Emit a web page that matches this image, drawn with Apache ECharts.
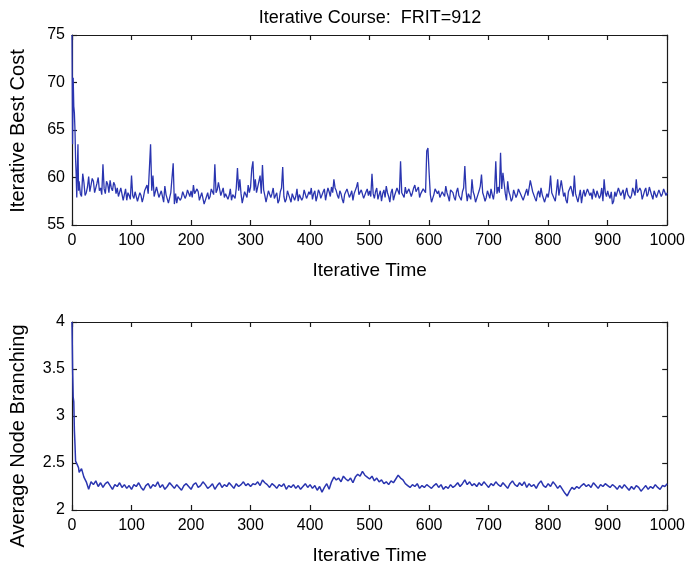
<!DOCTYPE html>
<html>
<head>
<meta charset="utf-8">
<script src="https://cdn.jsdelivr.net/npm/echarts@6/dist/echarts.min.js"></script>
<style>
html,body{margin:0;padding:0;background:#fff;}
#chart{width:688px;height:572px;}
</style>
</head>
<body>
<div id="chart"></div>
<script>
// ---- Data ----
const titleText = 'Iterative Course:  FRIT=912';
const xName = 'Iterative Time';
const costName = 'Iterative Best Cost';
const branchName = 'Average Node Branching';

// iterations 0..11 (every iteration)
const earlyIter = [0,1,2,3,4,5,6,7,8,9,10,11];
const earlyCost = [75, 63.5, 70.5, 67.5, 66.8, 65.0, 62.0, 60.3, 57.9, 61.0, 63.5, 58.6];
const earlyBranch = [4.0, 3.5, 3.2, 3.15, 2.85, 2.7, 2.52, 2.5, 2.5, 2.48, 2.5, 2.45];

// best cost at iterations 12, 14, 16, ... 1000
const costStart = 12;
const costStep = 2;
const cost = [
  59.6, 58.3, 58.0, 60.4, 59.5, 58.1, 58.4, 59.0, 60.1, 58.5,
  58.7, 59.9, 59.6, 58.4, 58.2, 59.4, 60.0, 58.6, 58.9, 58.2,
  61.4, 58.8, 58.3, 59.6, 59.3, 58.4, 59.7, 58.9, 58.6, 59.5,
  59.2, 58.3, 58.9, 58.0, 57.8, 58.9, 58.7, 57.6, 58.2, 58.8,
  57.6, 58.4, 58.1, 57.7,
  60.2, 58.1, 57.8, 58.5, 58.3, 57.5, 57.6, 58.4, 58.1, 57.4,
  57.9, 58.6, 58.4, 59.2, 58.3, 60.9, 63.5, 58.6, 60.2, 58.0,
  58.2, 59.0, 58.9, 57.9, 57.7, 58.6, 58.5, 57.4, 59.1, 58.2,
  58.0, 57.3, 57.5, 58.4, 58.6, 61.5, 57.2, 58.3, 57.3, 58.0,
  58.2, 57.6, 57.9, 58.5, 58.4, 57.8, 58.1, 58.7, 58.6, 58.0,
  58.6, 57.9, 59.2, 58.3, 58.1, 58.8, 58.5, 57.6, 57.8, 58.4,
  58.3, 57.2, 57.2, 58.0, 58.4, 57.7, 58.0, 58.8, 59.0, 58.2,
  61.4, 58.4, 58.7, 59.5, 59.3, 58.1, 58.2, 58.9, 57.9, 58.3,
  58.5, 57.7, 58.1, 58.8, 57.6, 58.2, 58.4, 57.8, 58.9, 61.0,
  58.6, 59.8, 58.3, 57.3, 57.4, 58.5, 58.6, 57.9, 59.2, 58.4,
  59.0, 60.9, 61.7, 58.6, 59.8, 58.4, 58.2, 59.6, 60.2, 58.3,
  61.3, 58.7, 58.1, 57.4, 57.5, 58.6, 58.6, 57.9, 58.3, 58.9,
  57.8, 58.1, 58.4, 57.3, 57.6, 58.5, 58.9, 61.1, 58.0, 57.4,
  57.7, 58.6, 58.2, 57.8, 57.4, 58.3, 58.5, 57.6, 58.0, 58.8,
  57.5, 58.2, 58.3, 57.6, 57.9, 58.7, 58.6, 57.8, 58.1, 58.5,
  58.2, 58.9, 57.7, 58.3, 58.6, 57.5, 58.0, 58.7, 58.4, 57.8,
  57.9, 58.5, 58.8, 57.6, 58.3, 58.9, 58.5, 58.0, 59.0, 58.4,
  59.8, 58.9, 58.6, 58.1, 57.8, 58.6, 58.3, 57.7, 57.3, 58.2,
  58.1, 58.8, 58.7, 57.9, 58.2, 58.6, 57.6, 58.3, 58.4, 59.0,
  59.5, 58.2, 58.0, 58.7, 58.6, 57.8, 57.9, 58.5, 58.8, 58.1,
  58.6, 58.0, 60.4, 58.3, 57.8, 58.5, 58.9, 57.7, 58.2, 58.6,
  57.5, 58.3, 58.7, 57.9, 59.1, 58.4, 58.0, 57.4, 58.4, 58.8,
  57.6, 58.1, 58.3, 58.9, 58.8, 58.2, 61.7, 58.4, 58.5, 57.9,
  59.0, 58.3, 58.2, 58.8, 58.7, 58.0, 58.4, 58.9, 59.2, 58.5,
  58.6, 59.0, 57.9, 58.3, 58.5, 58.8, 59.0, 58.4, 62.8, 63.1,
  60.5, 58.2, 57.4, 57.8, 58.2, 58.8, 59.0, 58.3, 58.6, 57.9,
  57.8, 58.5, 58.3, 58.0, 59.1, 58.4, 58.0, 57.5, 58.7, 58.9,
  58.4, 57.9, 57.6, 58.5, 58.9, 58.1, 58.2, 57.6, 58.5, 58.9,
  61.2, 58.6, 57.5, 58.3, 58.3, 57.7, 59.8, 58.5, 58.1, 57.4,
  57.4, 58.2, 58.6, 59.1, 60.3, 58.4, 58.0, 57.5, 57.9, 58.6,
  58.4, 57.8, 58.8, 58.2, 57.7, 58.6, 61.7, 58.3, 59.0, 58.4,
  62.6, 58.8, 60.5, 59.4, 58.3, 57.6, 59.6, 58.5, 58.1, 57.5,
  57.8, 58.7, 58.6, 57.9, 58.2, 58.8, 59.0, 58.2, 58.4, 57.6,
  57.6, 58.4, 58.8, 58.1, 58.0, 59.7, 59.7, 58.5, 58.3, 57.8,
  57.5, 58.3, 58.6, 57.9, 58.9, 58.2, 58.1, 57.4, 57.4, 58.3,
  57.9, 58.7, 60.2, 58.4, 58.5, 57.8, 57.5, 58.6, 59.8, 58.1,
  58.2, 59.7, 59.7, 58.0, 58.4, 57.6, 57.3, 58.5, 58.6, 59.1,
  58.9, 58.0, 60.2, 58.3, 58.1, 57.4, 57.6, 58.7, 57.3, 58.2,
  58.7, 58.0, 58.2, 58.8, 59.0, 58.1, 58.4, 57.7, 58.8, 58.3,
  57.9, 58.6, 58.5, 57.8, 58.1, 58.9, 57.5, 59.8, 58.4, 58.0,
  58.6, 58.1, 57.8, 58.5, 57.2, 57.5, 58.5, 58.0, 58.0, 58.9,
  58.8, 58.1, 58.3, 58.7, 57.7, 58.4, 58.9, 58.2, 58.4, 57.8,
  58.1, 58.9, 58.7, 58.1, 59.8, 58.4, 58.2, 58.9, 58.6, 57.7,
  57.6, 58.6, 58.9, 58.0, 58.3, 59.0, 59.2, 58.1, 57.7, 58.6,
  58.5, 57.9, 58.0, 58.7, 58.7, 58.0, 58.3, 58.8, 58.6, 58.1,
  58.4
];

// node branching at iterations 12, 16, 20, ... 1000
const branchStart = 12;
const branchStep = 4;
const branch = [
  2.4, 2.44, 2.35, 2.3, 2.22, 2.3, 2.27, 2.31, 2.25, 2.29, 2.24, 2.28, 2.3, 2.26, 2.22, 2.27, 2.25, 2.29, 2.24, 2.27, 2.23, 2.26,
  2.22, 2.27, 2.25, 2.29, 2.24, 2.21, 2.26, 2.28, 2.23, 2.27, 2.25, 2.3, 2.24, 2.27, 2.22, 2.25, 2.29, 2.26, 2.23, 2.27, 2.24, 2.21, 2.26, 2.28, 2.25,
  2.22, 2.27, 2.29, 2.24, 2.26, 2.3, 2.27, 2.23, 2.25, 2.28, 2.22, 2.26, 2.29, 2.24, 2.27, 2.25, 2.29, 2.26, 2.23, 2.28, 2.25, 2.27, 2.3, 2.26, 2.28,
  2.25, 2.28, 2.27, 2.3, 2.26, 2.32, 2.29, 2.27, 2.24, 2.28, 2.26, 2.23, 2.27, 2.25, 2.28, 2.22, 2.26, 2.24, 2.27, 2.23, 2.26, 2.22, 2.25, 2.28, 2.24,
  2.27, 2.23, 2.26, 2.21, 2.25, 2.19, 2.24, 2.28, 2.22, 2.3, 2.35, 2.32, 2.34, 2.3, 2.36, 2.33, 2.31, 2.34, 2.29, 2.35, 2.38, 2.36, 2.41, 2.37, 2.35,
  2.33, 2.36, 2.31, 2.34, 2.3, 2.32, 2.28, 2.3, 2.27, 2.31, 2.29, 2.33, 2.37, 2.34, 2.32, 2.28, 2.26, 2.24, 2.27, 2.25, 2.28, 2.23, 2.26, 2.24, 2.27,
  2.25, 2.23, 2.26, 2.28, 2.24, 2.27, 2.22, 2.25, 2.23, 2.27, 2.24, 2.26, 2.29, 2.25, 2.28, 2.32, 2.27, 2.3, 2.26, 2.28, 2.25, 2.29, 2.26, 2.3, 2.27,
  2.24, 2.28, 2.26, 2.3, 2.27, 2.25, 2.29, 2.26, 2.23, 2.28, 2.31, 2.27, 2.25, 2.29, 2.26, 2.3, 2.24, 2.28, 2.25, 2.27, 2.23, 2.28, 2.31, 2.26, 2.24,
  2.28, 2.25, 2.3, 2.27, 2.23, 2.26, 2.22, 2.18, 2.15, 2.2, 2.24, 2.22, 2.25, 2.23, 2.26, 2.28, 2.25, 2.27, 2.24, 2.29, 2.26, 2.23, 2.27, 2.25, 2.28,
  2.26, 2.24, 2.27, 2.25, 2.22, 2.26, 2.23, 2.27, 2.24, 2.21, 2.25, 2.22, 2.26, 2.24, 2.2, 2.23, 2.26, 2.22, 2.25, 2.23, 2.27, 2.24, 2.22, 2.26, 2.25,
  2.28
];

// ---- Build chart ----
const costPts = earlyIter.map((x, i) => [x, earlyCost[i]])
  .concat(cost.map((v, i) => [costStart + costStep * i, v]));
const branchPts = earlyIter.map((x, i) => [x, earlyBranch[i]])
  .concat(branch.map((v, i) => [branchStart + branchStep * i, v]));

const FONT = "'Liberation Sans', Arial, sans-serif";
const lineColor = '#2a35b0';
const axisColor = '#1a1a1a';

function xAx(grid, pos, showLabels, name) {
  return {
    type: 'value', gridIndex: grid, position: pos, min: 0, max: 1000, interval: 100,
    axisLine: { show: true, onZero: false, lineStyle: { color: axisColor, width: 1.2 } },
    axisTick: { show: true, inside: true, length: 5, lineStyle: { color: axisColor, width: 1.2 } },
    axisLabel: { show: showLabels, color: '#000', fontSize: 16, fontFamily: FONT, margin: 8,
      formatter: function (v) { return String(v); } },
    splitLine: { show: false },
    name: name || '', nameLocation: 'middle', nameGap: 36,
    nameTextStyle: { color: '#000', fontSize: 19, fontFamily: FONT }
  };
}
function yAx(grid, pos, showLabels, min, max, interval) {
  return {
    type: 'value', gridIndex: grid, position: pos, min: min, max: max, interval: interval,
    axisLine: { show: true, onZero: false, lineStyle: { color: axisColor, width: 1.2 } },
    axisTick: { show: true, inside: true, length: 5, lineStyle: { color: axisColor, width: 1.2 } },
    axisLabel: { show: showLabels, color: '#000', fontSize: 16, fontFamily: FONT, margin: 7,
      formatter: function (v) { return String(v); } },
    splitLine: { show: false }
  };
}

const chart = echarts.init(document.getElementById('chart'), null, { renderer: 'canvas' });
chart.setOption({
  animation: false,
  backgroundColor: '#fff',
  title: {
    text: titleText, left: 365, top: 4, textAlign: 'center',
    textStyle: { color: '#000', fontSize: 18, fontWeight: 'normal', fontFamily: FONT }
  },
  grid: [
    { left: 72, top: 35, width: 597, height: 190 },
    { left: 72, top: 322, width: 597, height: 188 }
  ],
  xAxis: [
    xAx(0, 'bottom', true, xName),
    xAx(0, 'top', false),
    xAx(1, 'bottom', true, xName),
    xAx(1, 'top', false)
  ],
  yAxis: [
    yAx(0, 'left', true, 55, 75, 5),
    yAx(0, 'right', false, 55, 75, 5),
    yAx(1, 'left', true, 2, 4, 0.5),
    yAx(1, 'right', false, 2, 4, 0.5)
  ],
  graphic: [
    { type: 'text', x: 18, y: 131, rotation: Math.PI / 2,
      style: { text: costName, fill: '#000', font: "20px 'Liberation Sans', Arial, sans-serif", textAlign: 'center', textVerticalAlign: 'middle' } },
    { type: 'text', x: 18, y: 436, rotation: Math.PI / 2,
      style: { text: branchName, fill: '#000', font: "20px 'Liberation Sans', Arial, sans-serif", textAlign: 'center', textVerticalAlign: 'middle' } }
  ],
  series: [
    { type: 'line', xAxisIndex: 0, yAxisIndex: 0, data: costPts, showSymbol: false, symbol: 'none',
      sampling: null, lineStyle: { color: lineColor, width: 1.3 }, itemStyle: { color: lineColor } },
    { type: 'line', xAxisIndex: 2, yAxisIndex: 2, data: branchPts, showSymbol: false, symbol: 'none',
      sampling: null, lineStyle: { color: lineColor, width: 1.5 }, itemStyle: { color: lineColor } }
  ]
});
</script>
</body>
</html>
